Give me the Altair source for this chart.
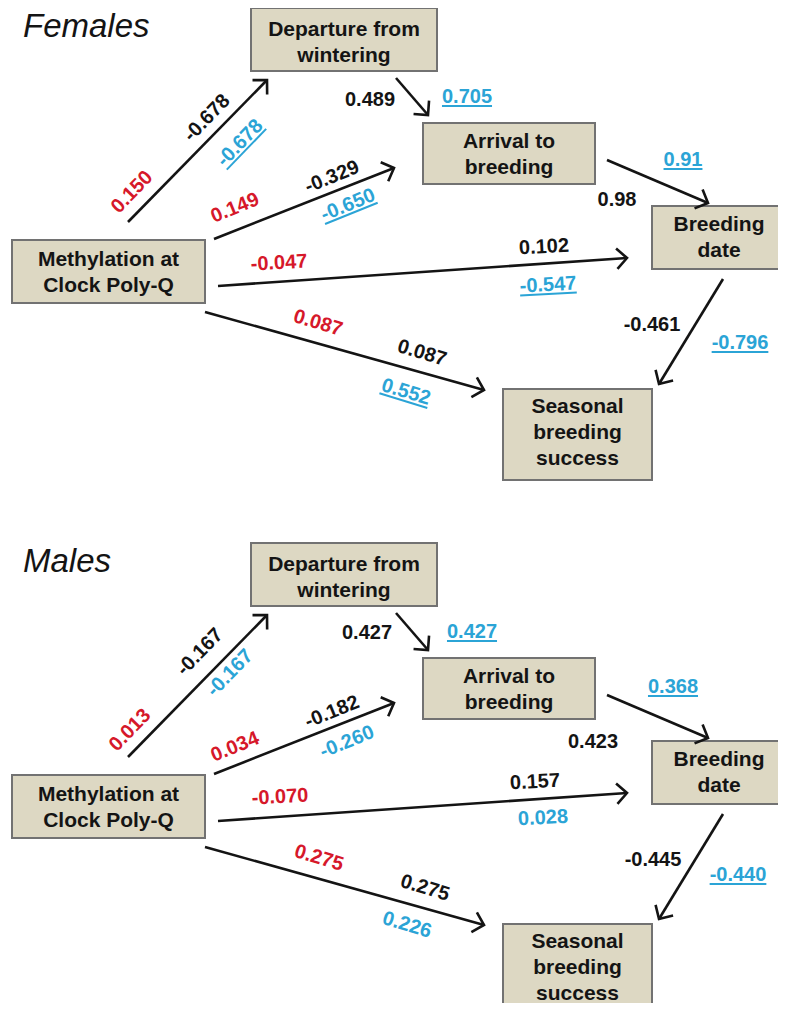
import math
import altair as alt
import pandas as pd

# ---------------- DATA (path coefficients) ----------------
panels = ["Females", "Males"]
node_labels = [
    "Departure from\nwintering",
    "Arrival to\nbreeding",
    "Breeding\ndate",
    "Methylation at\nClock Poly-Q",
    "Seasonal\nbreeding\nsuccess",
]
# edges: Meth->Dep, Meth->Arr, Meth->Breed, Meth->Seas, Dep->Arr, Arr->Breed, Breed->Seas
edge_from = [3, 3, 3, 3, 0, 1, 2]
edge_to = [0, 1, 2, 4, 1, 2, 4]

females_red = ["0.150", "0.149", "-0.047", "0.087"]
females_black = ["-0.678", "-0.329", "0.102", "0.087", "0.489", "0.98", "-0.461"]
females_blue = ["-0.678", "-0.650", "-0.547", "0.552", "0.705", "0.91", "-0.796"]
females_blue_underlined = [True, True, True, True, True, True, True]

males_red = ["0.013", "0.034", "-0.070", "0.275"]
males_black = ["-0.167", "-0.182", "0.157", "0.275", "0.427", "0.423", "-0.445"]
males_blue = ["-0.167", "-0.260", "0.028", "0.226", "0.427", "0.368", "-0.440"]
males_blue_underlined = [False, False, False, False, True, True, True]

# ---------------- LAYOUT (diagram geometry, page pixels) ----------------
panel_offset = [0, 535]
node_box = [  # x0, x1, y0, y1 for the Females panel
    (251, 437, 8, 71),
    (423, 595, 123, 184),
    (652, 792, 206, 269),
    (12, 205, 240, 303),
    (503, 652, 389, 480),
]
edge_start = [(128, 222), (214, 239), (218, 286), (205, 312), (396, 78), (607, 160), (723, 279)]
edge_end = [(267, 80), (394, 168), (627, 258), (484, 390), (428, 115), (708, 203), (659, 384)]
label_angle = [314, 338, 357, 17, 0, 0, 0]

label_pos = {
    "Females": {
        "red": [(132, 192), (235, 208), (279, 263), (318, 323)],
        "black": [(207, 118), (332, 177), (544, 247), (422, 353), (370, 100), (617, 200), (652, 325)],
        "blue": [(240, 143), (348, 205), (548, 285), (406, 392), (467, 97), (683, 160), (740, 343)],
    },
    "Males": {
        "red": [(130, 730), (235, 747), (280, 797), (319, 858)],
        "black": [(200, 652), (332, 712), (535, 782), (425, 888), (367, 633), (593, 742), (653, 860)],
        "blue": [(230, 673), (347, 742), (543, 818), (407, 925), (472, 632), (673, 687), (738, 875)],
    },
}
title_pos = (23, 37)
box_centre_y = [42.5, 155, 238, 273, 433]

RED = "#d6182a"
BLUE = "#2ba4d6"
BLACK = "#141414"
BOX_FILL = "#ddd8c3"
BOX_STROKE = "#727272"
FONT = "Liberation Sans"
NUM_SIZE = 20
BOX_SIZE = 21
LINE_H = 26

values = {
    "Females": (females_red, females_black, females_blue, females_blue_underlined),
    "Males": (males_red, males_black, males_blue, males_blue_underlined),
}

# ---------------- build tables ----------------
nodes, edges, heads, labels, unders, titles = [], [], [], [], [], []
char_w = {"-": 0.333, ".": 0.278}


def text_width(s, fs):
    return sum(char_w.get(c, 0.556) for c in s) * fs


for p, panel in enumerate(panels):
    off = panel_offset[p]
    titles.append({"x": title_pos[0], "y": title_pos[1] + off, "t": panel})
    for i, lab in enumerate(node_labels):
        x0, x1, y0, y1 = node_box[i]
        n_lines = lab.count("\n") + 1
        nodes.append({"x0": x0, "x1": x1, "y0": y0 + off, "y1": y1 + off,
                      "cx": (x0 + min(x1, 786)) / 2,
                      "cy": box_centre_y[i] + off - (n_lines - 1) * LINE_H / 2,
                      "label": lab})
    for e in range(len(edge_from)):
        (sx, sy), (ex, ey) = edge_start[e], edge_end[e]
        ang = (math.degrees(math.atan2(ex - sx, -(ey - sy))) + 360) % 360
        edges.append({"x": sx, "y": sy + off, "x2": ex, "y2": ey + off})
        heads.append({"x": ex, "y": ey + off, "ang": ang})
    red, black, blue, und = values[panel]
    pos = label_pos[panel]
    for kind, arr, col in (("red", red, RED), ("black", black, BLACK), ("blue", blue, BLUE)):
        for e, txt in enumerate(arr):
            x, y = pos[kind][e]
            a = label_angle[e]
            labels.append({"x": x, "y": y, "t": txt, "c": col, "a": a})
            if kind == "blue" and und[e]:
                th = math.radians(a)
                w = text_width(txt, NUM_SIZE)
                d = 0.3 * NUM_SIZE + 3
                bx, by = x - math.sin(th) * d, y + math.cos(th) * d
                unders.append({"x": bx - math.cos(th) * w / 2, "y": by - math.sin(th) * w / 2,
                               "x2": bx + math.cos(th) * w / 2, "y2": by + math.sin(th) * w / 2})

XS = alt.Scale(domain=[8, 778])
YS = alt.Scale(domain=[8, 1003], reverse=True)

boxes = alt.Chart(pd.DataFrame(nodes)).mark_rect(
    fill=BOX_FILL, stroke=BOX_STROKE, strokeWidth=2, clip=True
).encode(
    x=alt.X("x0:Q", scale=XS, axis=None), x2="x1:Q",
    y=alt.Y("y0:Q", scale=YS, axis=None), y2="y1:Q",
)
box_text = alt.Chart(pd.DataFrame(nodes)).mark_text(
    font=FONT, fontSize=BOX_SIZE, fontWeight="bold", color=BLACK, lineBreak="\n",
    lineHeight=LINE_H, align="center", baseline="middle"
).encode(
    x=alt.X("cx:Q", scale=XS, axis=None), y=alt.Y("cy:Q", scale=YS, axis=None), text="label:N"
)
lines = alt.Chart(pd.DataFrame(edges)).mark_rule(color=BLACK, strokeWidth=2.6).encode(
    x=alt.X("x:Q", scale=XS, axis=None), y=alt.Y("y:Q", scale=YS, axis=None), x2="x2:Q", y2="y2:Q"
)
arrowheads = alt.Chart(pd.DataFrame(heads)).mark_point(
    shape="M -1 1 L 0 0 L 1 1", size=420, filled=False, stroke=BLACK, strokeWidth=2.6, opacity=1
).encode(
    x=alt.X("x:Q", scale=XS, axis=None), y=alt.Y("y:Q", scale=YS, axis=None),
    angle=alt.Angle("ang:Q", scale=None),
)
coef = alt.Chart(pd.DataFrame(labels)).mark_text(
    font=FONT, fontSize=NUM_SIZE, fontWeight="bold", align="center", baseline="middle"
).encode(
    x=alt.X("x:Q", scale=XS, axis=None), y=alt.Y("y:Q", scale=YS, axis=None),
    text="t:N", color=alt.Color("c:N", scale=None), angle=alt.Angle("a:Q", scale=None),
)
underline = alt.Chart(pd.DataFrame(unders)).mark_rule(color=BLUE, strokeWidth=2).encode(
    x=alt.X("x:Q", scale=XS, axis=None), y=alt.Y("y:Q", scale=YS, axis=None), x2="x2:Q", y2="y2:Q"
)
title_text = alt.Chart(pd.DataFrame(titles)).mark_text(
    font=FONT, fontSize=33, fontStyle="italic", color=BLACK, align="left", baseline="alphabetic"
).encode(
    x=alt.X("x:Q", scale=XS, axis=None), y=alt.Y("y:Q", scale=YS, axis=None), text="t:N"
)

chart = alt.layer(boxes, box_text, lines, arrowheads, coef, underline, title_text).properties(
    width=770, height=995, padding=0, autosize=alt.AutoSizeParams(type="none")
).configure_view(stroke=None)

chart.save("out.html", embed_options={"renderer": "svg", "actions": False})
